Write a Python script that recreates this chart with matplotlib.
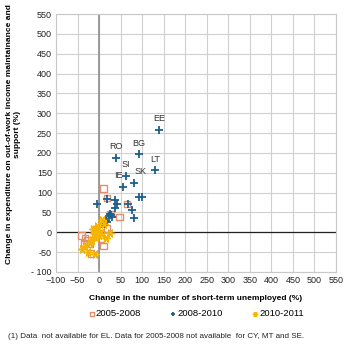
import matplotlib.pyplot as plt
import numpy as np

plt.rcParams['font.family'] = ['Liberation Sans', 'DejaVu Sans']

# 2005-2008 (open squares)
x0508 = [10, 18, 65, 47, 26, -41, -33, -21, -19, 10, 5, 18, -35, -8, -28]
y0508 = [110, 86, 71, 38, 46, -8, -14, -30, -54, -35, -16, 9, -27, -5, -20]

# 2008-2010 (plus)
x0810 = [139, 92, 39, 130, 62, 80, 55, 93, 100, -4, 18, 38, 41, 38, 67, 77, 82,
         26, 24, 28, 16, 12, 6, 19, 30]
y0810 = [258, 196, 188, 156, 142, 124, 115, 90, 90, 71, 83, 82, 70, 62, 71, 56, 35,
         47, 42, 44, 29, 20, 20, 26, 39]
lab0810 = ['EE', 'BG', 'RO', 'LT', 'SI', 'SK', 'IE']
# label shift in points (dx)
labdx = [0, 0, 0, 0, 0, 5, -3]

# 2010-2011 (stars)
x1011 = [-40, -33, -9, 7, 26, -12, -5, -17, 16, -25, -8, -3, -14, 0, -6, -10, 4, -20, 12, -2]
y1011 = [-43, -35, -55, 30, -3, -3, 16, -20, -14, -50, 0, 5, 8, -8, -12, 2, -2, -28, 20, -5]

blue = '#1f5f8b'
salmon = '#e0906f'
gold = '#f5b400'

fig = plt.figure(figsize=(3.5, 3.5), dpi=100)
ax = fig.add_axes([0.16, 0.223, 0.8, 0.737])

ax.axvline(0, color='#8c8c8c', lw=1.2, zorder=1)
ax.axhline(0, color='#222222', lw=0.9, zorder=1)

ax.scatter(x0508, y0508, marker='s', s=22, facecolors='none', edgecolors=salmon,
           linewidths=1.0, zorder=3, label='2005-2008')
ax.scatter(x0810, y0810, marker='+', s=28, color=blue, linewidths=1.3, zorder=4,
           label='2008-2010')
ax.scatter(x1011, y1011, marker=(6, 2, 90), s=30, color=gold, linewidths=1.1,
           zorder=5, label='2010-2011')

for i, t in enumerate(lab0810):
    ax.annotate(t, (x0810[i], y0810[i]), xytext=(labdx[i], 8), textcoords='offset points',
                ha='center', va='center', fontsize=6.5, color='#333333')

ax.set_xlim(-100, 550)
ax.set_ylim(-100, 550)
ax.set_xticks(np.arange(-100, 551, 50))
ax.set_yticks(np.arange(-100, 551, 50))
ax.set_yticklabels(['- 100' if v == -100 else str(v) for v in range(-100, 551, 50)])
ax.grid(True, color='#d0d0d0', lw=0.8, zorder=0)
ax.set_axisbelow(True)
for s in ax.spines.values():
    s.set_color('#c8c8c8')
ax.tick_params(length=0, labelsize=6.5, colors='#222222', pad=3)

ax.set_xlabel('Change in the number of short-term unemployed (%)', fontsize=6.0,
              fontweight='bold', labelpad=7)
ax.set_ylabel('Change in expenditure on out-of-work income maintainance and\nsupport (%)',
              fontsize=6.0, fontweight='bold')
ax.yaxis.set_label_coords(-0.125, 0.535)

fig.legend(loc='center', bbox_to_anchor=(0.56, 0.103), ncol=3, frameon=False,
           fontsize=6.8, handletextpad=0.05, columnspacing=3.0, markerscale=0.55,
           handlelength=0.8)

fig.text(0.022, 0.033, '(1) Data  not available for EL. Data for 2005-2008 not available  for CY, MT and SE.',
         fontsize=5.8, color='#222222')

fig.savefig('out.png', dpi=100)
